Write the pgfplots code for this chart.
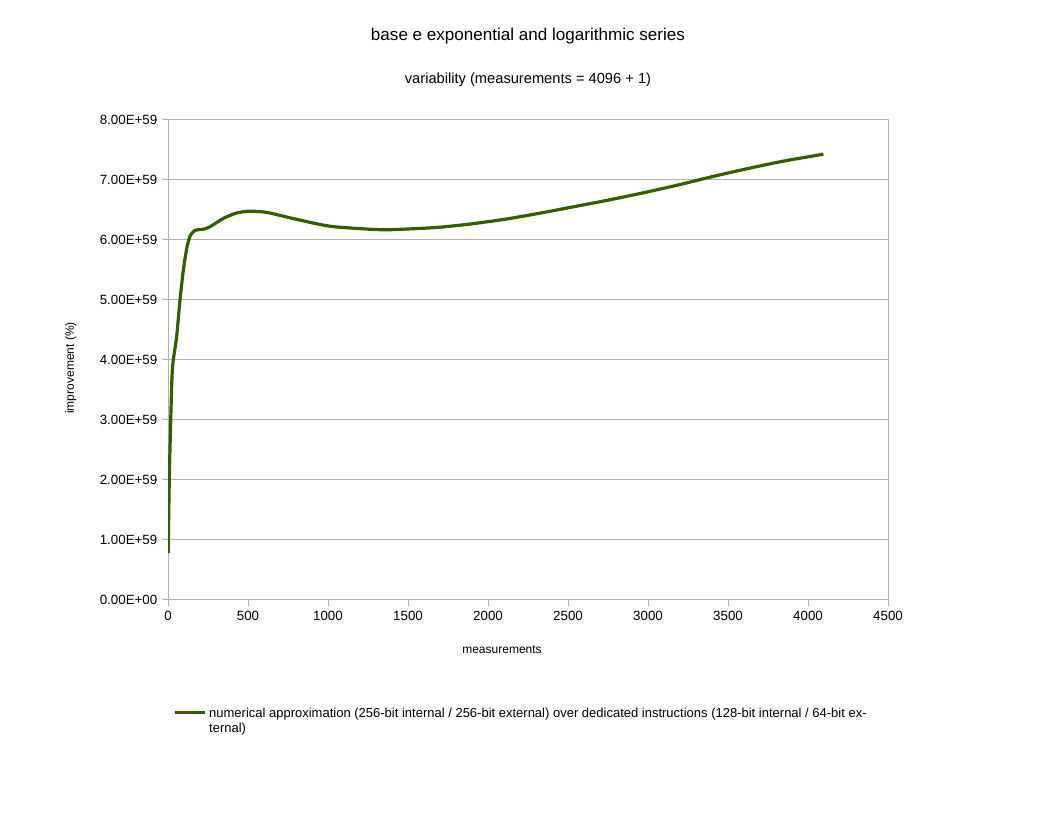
\documentclass[border=0pt]{standalone}
\usepackage{pgfplots}
\pgfplotsset{compat=1.18}
\usepackage{fontspec}
\setmainfont{Liberation Sans}
\definecolor{gridgray}{HTML}{B3B3B3}
\definecolor{lineg}{HTML}{355E00}
\begin{document}
\begin{tikzpicture}
\path (0,0) rectangle (792pt,612pt);
\begin{axis}[
  at={(126pt,162pt)}, anchor=south west,
  scale only axis, width=540pt, height=360pt,
  xmin=0, xmax=4500, ymin=0, ymax=8e59,
  scaled y ticks=false, scaled x ticks=false,
  xtick={0,500,...,4500},
  xticklabels={0,500,1000,1500,2000,2500,3000,3500,4000,4500},
  ytick={0,1e59,2e59,3e59,4e59,5e59,6e59,7e59,8e59},
  yticklabels={0.00E+00,1.00E+59,2.00E+59,3.00E+59,4.00E+59,5.00E+59,6.00E+59,7.00E+59,8.00E+59},
  tick label style={font=\fontsize{10}{12}\selectfont},
  tick align=outside, major tick length=4.5pt,
  tick style={gridgray, line width=0.75pt},
  axis line style={gridgray, line width=0.75pt},
  ymajorgrids, grid style={gridgray, line width=0.75pt},
  xtick pos=bottom, ytick pos=left,
  legend style={at={(axis description cs:0.007,-0.219)}, anchor=north west, draw=none, fill=none,
     font=\fontsize{9.75}{11.25}\selectfont, cells={align=left, anchor=west}, inner sep=0pt,
     /tikz/every even column/.append style={column sep=0.5pt}},
  legend image code/.code={\draw[#1, line width=2.4pt] (0pt,6.3pt) -- (22.5pt,6.3pt);},
]
\addplot[lineg, line width=2.4pt, line join=round, smooth, tension=0.4] coordinates {
(1,0.78e59) (8,2.0e59) (17,3.0e59) (25,3.72e59) (33,4.0e59) (54,4.39e59)
(75,5.0e59) (96,5.5e59) (117,5.86e59) (137,6.06e59) (169,6.16e59) (221,6.18e59)
(262,6.22e59) (346,6.36e59) (429,6.45e59) (512,6.48e59) (617,6.46e59) (762,6.37e59)
(929,6.27e59) (1040,6.22e59) (1256,6.18e59) (1360,6.17e59) (1471,6.18e59) (1686,6.21e59)
(1901,6.27e59) (2116,6.35e59) (2331,6.45e59) (2547,6.56e59) (2762,6.67e59) (2977,6.79e59)
(3193,6.92e59) (3408,7.06e59) (3623,7.19e59) (3838,7.31e59) (4096,7.43e59)
};
\addlegendentry{numerical approximation (256-bit internal / 256-bit external) over dedicated instructions (128-bit internal / 64-bit ex-\\ternal)}
\end{axis}
\node[font=\fontsize{12.8}{15}\selectfont] at (396pt,585pt) {base e exponential and logarithmic series};
\node[font=\fontsize{11}{13}\selectfont] at (396pt,552pt) {variability (measurements = 4096 + 1)};
\node[font=\fontsize{9}{11}\selectfont] at (376.5pt,124.5pt) {measurements};
\node[font=\fontsize{9}{11}\selectfont, rotate=90] at (53pt,336pt) {improvement (\%)};
\end{tikzpicture}
\end{document}
